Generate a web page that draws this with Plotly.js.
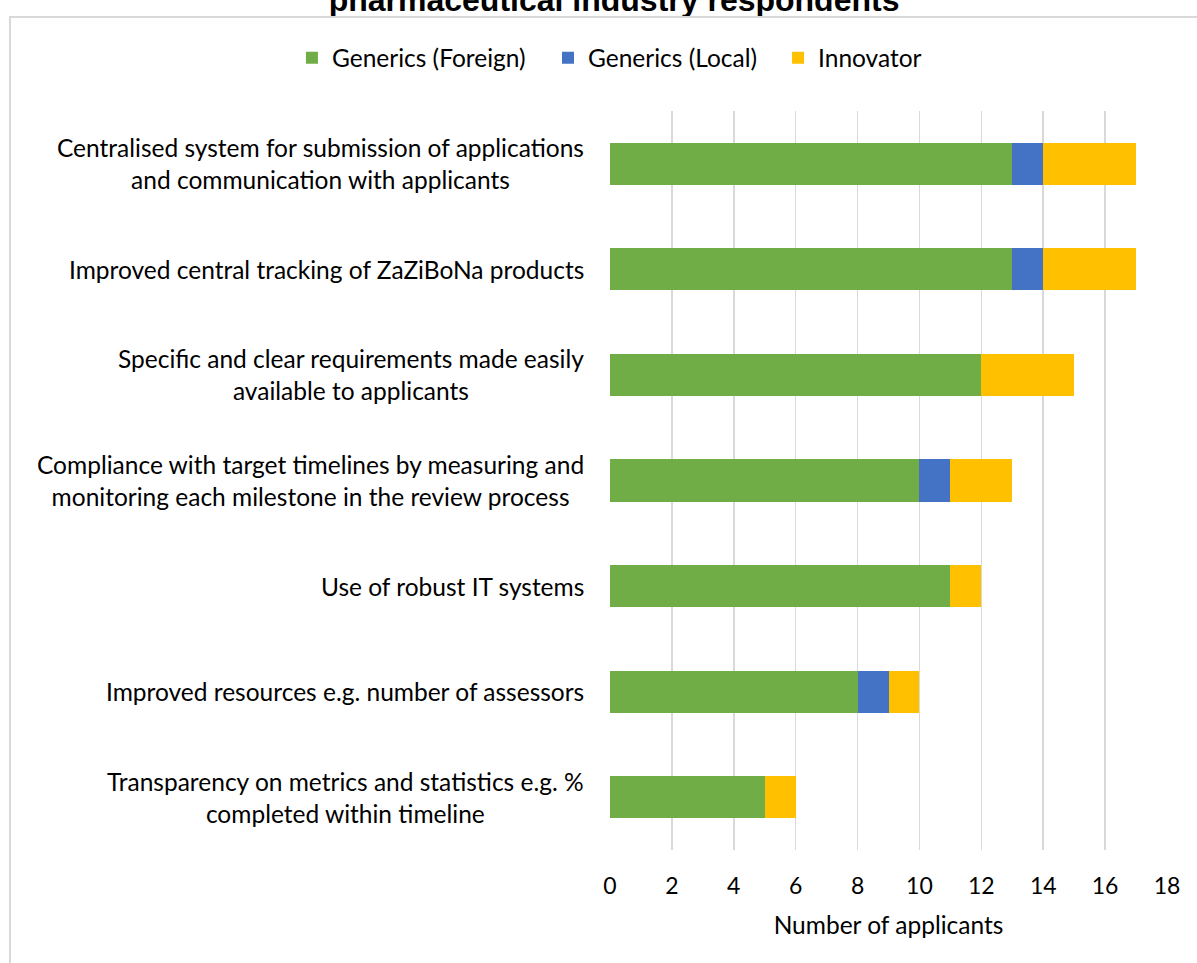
<!DOCTYPE html>
<html>
<head>
<meta charset="utf-8">
<script src="https://cdn.plot.ly/plotly-3.0.1.min.js"></script>
<style>
html,body{margin:0;padding:0;background:#fff;}
#chart{width:1197px;height:963px;position:absolute;left:0;top:0;}
#frame{position:absolute;left:9px;top:16px;width:1300px;height:1100px;border-left:2px solid #d9d9d9;border-top:2px solid #d9d9d9;pointer-events:none;}
</style>
</head>
<body>
<div id="chart"></div>
<div id="frame"></div>
<script>
const categories = [
  "Centralised system for submission of applications<br>and communication with applicants",
  "Improved central tracking of ZaZiBoNa products",
  "Specific and clear requirements made easily<br>available to applicants",
  "Compliance with target timelines by measuring and<br>monitoring each milestone in the review process",
  "Use of robust IT systems",
  "Improved resources e.g. number of assessors",
  "Transparency on metrics and statistics e.g. %<br>completed within timeline"
];
const seriesNames = ["Generics (Foreign)", "Generics (Local)", "Innovator"];
const genericsForeign = [13, 13, 12, 10, 11, 8, 5];
const genericsLocal   = [1, 1, 0, 1, 0, 1, 0];
const innovator       = [3, 3, 3, 2, 1, 1, 1];
const xTicks = [0, 2, 4, 6, 8, 10, 12, 14, 16, 18];

const FONT = "Lato, 'Open Sans', sans-serif";
const ids = categories.map((c, i) => "c" + i);

function series(name, vals, color, legendId) {
  return {
    type: "bar", orientation: "h", name: name,
    x: vals, y: ids, legend: legendId,
    marker: {color: color, line: {width: 0}},
    hoverinfo: "x+name"
  };
}

const data = [
  series(seriesNames[0], genericsForeign, "#70AD47", "legend"),
  series(seriesNames[1], genericsLocal, "#4472C4", "legend2"),
  series(seriesNames[2], innovator, "#FFC000", "legend3")
];

const annotations = categories.map((c, i) => ({
  text: c, x: 0, xref: "paper", y: ids[i], yref: "y",
  xanchor: "right", yanchor: "middle", xshift: -24, align: "center",
  showarrow: false, font: {family: FONT, size: 24.5, color: "#000"}
}));

function legendAt(x) {
  return {
    orientation: "h", x: x, xref: "container", xanchor: "left",
    y: 0.94, yref: "container", yanchor: "middle",
    font: {family: FONT, size: 24.5, color: "#000"},
    itemwidth: 30, bgcolor: "rgba(0,0,0,0)"
  };
}

const layout = {
  width: 1197, height: 963,
  margin: {l: 610, r: 30, t: 111, b: 113},
  paper_bgcolor: "#fff", plot_bgcolor: "#fff",
  barmode: "stack", bargap: 0.6,
  title: {
    text: "pharmaceutical industry respondents",
    x: 0.513, xref: "container", y: 1, yref: "container", yanchor: "middle",
    font: {family: "'Liberation Sans', Arial, sans-serif", size: 32, color: "#000", weight: "bold"}
  },
  legend: legendAt(0.2439),
  legend2: legendAt(0.4578),
  legend3: legendAt(0.6500),
  xaxis: {
    range: [0, 18], tickvals: xTicks, ticktext: xTicks.map(String),
    showgrid: true, gridcolor: "#d9d9d9", gridwidth: 1.5,
    zeroline: false, showline: false, ticks: "",
    tickfont: {family: FONT, size: 23, color: "#000"},
    ticklabelstandoff: 20,
    title: {text: "Number of applicants", font: {family: FONT, size: 24.5, color: "#000"}, standoff: 18}
  },
  yaxis: {
    autorange: "reversed", showticklabels: false, showgrid: false,
    zeroline: false, showline: false, ticks: ""
  },
  annotations: annotations,
  showlegend: true
};

Plotly.newPlot("chart", data, layout, {displayModeBar: false, staticPlot: true});
</script>
</body>
</html>
